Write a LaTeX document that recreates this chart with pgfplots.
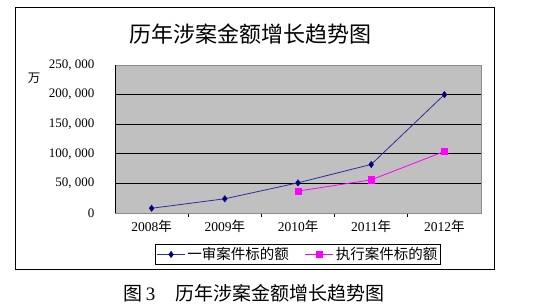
\documentclass[border=0pt]{standalone}
\usepackage{pgfplots}
\pgfplotsset{compat=1.18}
\usepackage{fontspec}
\setmainfont{Liberation Serif}
\newfontfamily\cjk{Noto Sans CJK SC}
\definecolor{plotgray}{HTML}{C0C0C0}
\definecolor{framegray}{HTML}{8C8C8C}
\definecolor{navy}{HTML}{000080}
\definecolor{navyline}{HTML}{2E2E96}
\definecolor{mag}{HTML}{FF00FF}
\begin{document}
\begin{tikzpicture}[x=1pt,y=1pt]
\useasboundingbox (0,0) rectangle (554,305);
\fill[white] (0,0) rectangle (554,305);
\draw[black, line width=0.9pt] (15,36) rectangle (494,298);
\node[font=\cjk\fontsize{22}{22}\selectfont] at (250,271) {历年涉案金额增长趋势图};
\node[font=\cjk\fontsize{12.5}{12.5}\selectfont] at (34,227) {万};
\begin{axis}[
  at={(115pt,92pt)}, anchor=south west,
  scale only axis, width=366pt, height=148pt,
  xmin=-0.5, xmax=4.5, ymin=0, ymax=250000,
  scaled y ticks=false,
  axis background/.style={fill=plotgray},
  axis line style={framegray, line width=0.8pt},
  xtick={0,1,2,3,4},
  xticklabels={2008{\cjk 年},2009{\cjk 年},2010{\cjk 年},2011{\cjk 年},2012{\cjk 年}},
  minor xtick={0.5,1.5,2.5,3.5},
  xtick pos=bottom, ytick pos=left,
  tick align=outside,
  major tick length=0pt, minor tick length=4pt,
  minor tick style={black, line width=0.8pt},
  ytick={0,50000,100000,150000,200000},
  yticklabels={0,{50, 000},{100, 000},{150, 000},{200, 000}},
  extra y ticks={250000},
  extra y tick labels={250{,} 000},
  extra y tick style={grid=none},
  ymajorgrids,
  major grid style={black, line width=0.8pt},
  yticklabel style={anchor=east, xshift=-17pt, font=\fontsize{13}{13}\selectfont},
  xticklabel style={font=\fontsize{13.5}{13.5}\selectfont, yshift=-4pt},
  every axis plot/.append style={legend image code/.code={\draw[mark repeat=2,mark phase=2] plot coordinates {(0pt,0pt) (14pt,0pt) (28pt,0pt)};}},
  legend columns=2,
  legend style={at={(0.5,-0.28)}, anchor=center, draw=black, line width=0.8pt,
    font=\cjk\fontsize{14.5}{14.5}\selectfont, inner sep=1.5pt,
    /tikz/every even column/.append style={column sep=14pt}},
  legend cell align=left,
]
\addplot[navyline, line width=0.8pt, mark=diamond*, mark size=3.2pt,
  mark options={fill=navy, draw=navy, line width=0.4pt}]
  coordinates {(0,8000) (1,24000) (2,51000) (3,82000) (4,200000)};
\addlegendentry{一审案件标的额}
\addplot[mag, line width=0.8pt, mark=square*, mark size=3.2pt,
  mark options={fill=mag, draw=mag, line width=0.4pt}]
  coordinates {(2,37000) (3,56000) (4,104000)};
\addlegendentry{执行案件标的额}
\draw[black, line width=0.9pt] (rel axis cs:0,0) -- (rel axis cs:0,1);
\draw[black, line width=0.9pt] (rel axis cs:0,0) -- (rel axis cs:1,0);
\end{axis}
\node[font=\fontsize{19}{19}\selectfont] at (254,12) {{\cjk 图}\,3\hspace{20pt}{\cjk 历年涉案金额增长趋势图}};
\end{tikzpicture}
\end{document}
